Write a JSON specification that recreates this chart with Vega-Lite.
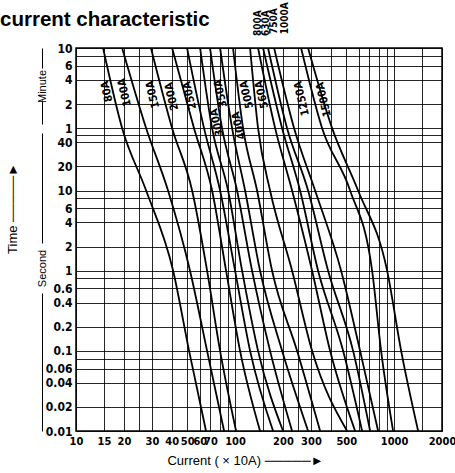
{
  "$schema": "https://vega.github.io/schema/vega-lite/v6.json",
  "width": 366,
  "height": 383,
  "autosize": {"type": "none"},
  "padding": {"left": 76, "top": 48, "right": 13, "bottom": 42},
  "background": "white",
  "title": {"text": "current characteristic", "anchor": "start", "frame": "group", "dx": -76, "offset": 0, "dy": 44, "baseline": "alphabetic", "fontSize": 20.5, "fontWeight": "bold", "font": "Liberation Sans", "color": "black"},
  "config": {"view": {"stroke": "black", "strokeWidth": 1.5}, "font": "Liberation Sans"},
  "datasets": {
    "curves": [
      {"fuse": "80A", "I": 14.8, "t": 600}, {"fuse": "80A", "I": 19.5, "t": 60}, {"fuse": "80A", "I": 27.6, "t": 10}, {"fuse": "80A", "I": 40.8, "t": 1}, {"fuse": "80A", "I": 51.4, "t": 0.1}, {"fuse": "80A", "I": 65.7, "t": 0.01},
      {"fuse": "100A", "I": 19.5, "t": 600}, {"fuse": "100A", "I": 27.6, "t": 60}, {"fuse": "100A", "I": 37.9, "t": 10}, {"fuse": "100A", "I": 52.1, "t": 1}, {"fuse": "100A", "I": 66.7, "t": 0.1}, {"fuse": "100A", "I": 85.3, "t": 0.01},
      {"fuse": "150A", "I": 29.6, "t": 600}, {"fuse": "150A", "I": 40.2, "t": 60}, {"fuse": "150A", "I": 53.7, "t": 10}, {"fuse": "150A", "I": 66.7, "t": 1}, {"fuse": "150A", "I": 80.5, "t": 0.1}, {"fuse": "150A", "I": 101.5, "t": 0.01},
      {"fuse": "200A", "I": 40.2, "t": 600}, {"fuse": "200A", "I": 55.2, "t": 60}, {"fuse": "200A", "I": 71.7, "t": 10}, {"fuse": "200A", "I": 87.8, "t": 1}, {"fuse": "200A", "I": 107.5, "t": 0.1}, {"fuse": "200A", "I": 143.6, "t": 0.01},
      {"fuse": "250A", "I": 49.9, "t": 600}, {"fuse": "250A", "I": 63.8, "t": 60}, {"fuse": "250A", "I": 80.5, "t": 10}, {"fuse": "250A", "I": 100, "t": 1}, {"fuse": "250A", "I": 124.3, "t": 0.1}, {"fuse": "250A", "I": 173.4, "t": 0.01},
      {"fuse": "300A", "I": 60.3, "t": 600}, {"fuse": "300A", "I": 71.7, "t": 60}, {"fuse": "300A", "I": 90.4, "t": 10}, {"fuse": "300A", "I": 110.7, "t": 1}, {"fuse": "300A", "I": 139.5, "t": 0.1}, {"fuse": "300A", "I": 200.4, "t": 0.01},
      {"fuse": "350A", "I": 69.6, "t": 600}, {"fuse": "350A", "I": 82.8, "t": 60}, {"fuse": "350A", "I": 102.9, "t": 10}, {"fuse": "350A", "I": 127.9, "t": 1}, {"fuse": "350A", "I": 166.0, "t": 0.1}, {"fuse": "350A", "I": 228.3, "t": 0.01},
      {"fuse": "400A", "I": 80.5, "t": 600}, {"fuse": "400A", "I": 95.8, "t": 60}, {"fuse": "400A", "I": 115.6, "t": 10}, {"fuse": "400A", "I": 143.6, "t": 1}, {"fuse": "400A", "I": 197.6, "t": 0.1}, {"fuse": "400A", "I": 287.8, "t": 0.01},
      {"fuse": "500A", "I": 97.1, "t": 600}, {"fuse": "500A", "I": 112.3, "t": 60}, {"fuse": "500A", "I": 137.5, "t": 10}, {"fuse": "500A", "I": 170.9, "t": 1}, {"fuse": "500A", "I": 245.4, "t": 0.1}, {"fuse": "500A", "I": 342.5, "t": 0.01},
      {"fuse": "560A", "I": 124.3, "t": 600}, {"fuse": "560A", "I": 139.5, "t": 60}, {"fuse": "560A", "I": 166.0, "t": 10}, {"fuse": "560A", "I": 228.3, "t": 1}, {"fuse": "560A", "I": 305.0, "t": 0.1}, {"fuse": "560A", "I": 506.4, "t": 0.01},
      {"fuse": "630A", "I": 139.5, "t": 600}, {"fuse": "630A", "I": 178.6, "t": 60}, {"fuse": "630A", "I": 228.3, "t": 10}, {"fuse": "630A", "I": 305.0, "t": 1}, {"fuse": "630A", "I": 395.8, "t": 0.1}, {"fuse": "630A", "I": 568.5, "t": 0.01},
      {"fuse": "750A", "I": 150.0, "t": 600}, {"fuse": "750A", "I": 197.6, "t": 60}, {"fuse": "750A", "I": 256.3, "t": 10}, {"fuse": "750A", "I": 332.7, "t": 1}, {"fuse": "750A", "I": 477.9, "t": 0.1}, {"fuse": "750A", "I": 629.0, "t": 0.01},
      {"fuse": "800A", "I": 161.2, "t": 600}, {"fuse": "800A", "I": 212.3, "t": 60}, {"fuse": "800A", "I": 287.8, "t": 10}, {"fuse": "800A", "I": 384.5, "t": 1}, {"fuse": "800A", "I": 552.3, "t": 0.1}, {"fuse": "800A", "I": 706.6, "t": 0.01},
      {"fuse": "1000A", "I": 176.0, "t": 600}, {"fuse": "1000A", "I": 235.0, "t": 60}, {"fuse": "1000A", "I": 318.6, "t": 10}, {"fuse": "1000A", "I": 464.2, "t": 1}, {"fuse": "1000A", "I": 611.1, "t": 0.1}, {"fuse": "1000A", "I": 793.3, "t": 0.01},
      {"fuse": "1250A", "I": 260.1, "t": 600}, {"fuse": "1250A", "I": 352.6, "t": 60}, {"fuse": "1250A", "I": 528.9, "t": 10}, {"fuse": "1250A", "I": 727.2, "t": 1}, {"fuse": "1250A", "I": 828.3, "t": 0.1}, {"fuse": "1250A", "I": 985.6, "t": 0.01},
      {"fuse": "1500A", "I": 287.8, "t": 600}, {"fuse": "1500A", "I": 407.4, "t": 60}, {"fuse": "1500A", "I": 593.6, "t": 10}, {"fuse": "1500A", "I": 903.6, "t": 1}, {"fuse": "1500A", "I": 1107, "t": 0.1}, {"fuse": "1500A", "I": 1416, "t": 0.01}
    ],
    "labels": [
      {"label": "80A", "I": 15.7, "t": 173},
      {"label": "100A", "I": 20.3, "t": 168},
      {"label": "150A", "I": 30.5, "t": 158},
      {"label": "200A", "I": 40.2, "t": 150},
      {"label": "250A", "I": 52.1, "t": 154},
      {"label": "300A", "I": 77.1, "t": 70.8},
      {"label": "350A", "I": 81.6, "t": 163},
      {"label": "400A", "I": 106, "t": 64.9},
      {"label": "500A", "I": 119, "t": 158},
      {"label": "560A", "I": 148, "t": 158},
      {"label": "1250A", "I": 264, "t": 141},
      {"label": "1500A", "I": 363, "t": 137},
      {"label": "800A", "I": 139.5, "t": 1223},
      {"label": "630A", "I": 156, "t": 1223},
      {"label": "750A", "I": 176, "t": 1296},
      {"label": "1000A", "I": 206, "t": 1413}
    ]
  },
  "resolve": {"axis": {"y": "independent"}},
  "layer": [
    {
      "data": {"name": "curves"},
      "mark": {"type": "line", "color": "black", "strokeWidth": 1.8, "interpolate": "monotone"},
      "encoding": {
        "detail": {"field": "fuse"},
        "x": {"field": "I", "type": "quantitative", "scale": {"type": "log", "domain": [10, 2000], "nice": false},
          "axis": {"values": [10,15,20,25,30,40,50,60,70,80,90,100,150,200,250,300,400,500,600,700,800,900,1000,1500,2000],
            "labelExpr": "indexof([25,80,90,150,250,400,600,700,800,900,1500], datum.value) >= 0 ? '' : format(datum.value, 'd')",
            "labelOverlap": false, "labelBound": false, "labelFlush": false, "grid": true, "gridColor": "black", "gridWidth": 1, "gridOpacity": 0.85,
            "ticks": false, "domain": false, "labelPadding": 4, "labelFont": "Liberation Sans Narrow, DejaVu Sans Condensed, Liberation Sans", "labelFontSize": 11, "labelFontWeight": "bold", "labelColor": "black",
            "title": "Current ( × 10A) ─────►", "titleFont": "Liberation Sans", "titleFontSize": 13, "titleFontWeight": "normal", "titleColor": "black", "titleX": 169, "titlePadding": 8}},
        "y": {"field": "t", "type": "quantitative", "scale": {"type": "log", "domain": [0.01, 600], "nice": false},
          "axis": {"orient": "left", "values": [600,480,360,240,120,60,50,40,20,10,8,6,4,2,1,0.8,0.6,0.4,0.2,0.1,0.08,0.06,0.04,0.02,0.01],
            "labelExpr": "indexof([480,50,8,0.8,0.08], datum.value) >= 0 ? '' : datum.value >= 60 ? format(datum.value/60, 'd') : datum.value >= 1 ? format(datum.value, 'd') : format(datum.value, '.2~f')",
            "labelOverlap": false, "labelBound": false, "labelFlush": false, "grid": true, "gridColor": "black", "gridWidth": 1, "gridOpacity": 0.85,
            "ticks": false, "domain": false, "labelPadding": 4, "labelFont": "Liberation Sans Narrow, DejaVu Sans Condensed, Liberation Sans", "labelFontSize": 12, "labelFontWeight": "bold", "labelColor": "black",
            "title": "Time ─────►", "titleFont": "Liberation Sans", "titleFontSize": 13, "titleFontWeight": "normal", "titleColor": "black", "titleX": -64, "titleY": 160, "titleAngle": -90, "titleAlign": "center", "titleBaseline": "middle"}}
      }
    },
    {
      "data": {"name": "labels"},
      "transform": [{"filter": "datum.t <= 600"}],
      "mark": {"type": "text", "angle": -103, "align": "center", "baseline": "middle", "font": "Liberation Sans Narrow, DejaVu Sans Condensed, Liberation Sans", "fontSize": 11, "fontWeight": "bold", "color": "black"},
      "encoding": {
        "text": {"field": "label"},
        "x": {"field": "I", "type": "quantitative", "scale": {"type": "log", "domain": [10, 2000], "nice": false}},
        "y": {"field": "t", "type": "quantitative", "scale": {"type": "log", "domain": [0.01, 600], "nice": false}, "axis": null}
      }
    },
    {
      "data": {"name": "labels"},
      "transform": [{"filter": "datum.t > 600"}],
      "mark": {"type": "text", "angle": -90, "align": "center", "baseline": "middle", "font": "Liberation Sans Narrow, DejaVu Sans Condensed, Liberation Sans", "fontSize": 10, "fontWeight": "bold", "color": "black"},
      "encoding": {
        "text": {"field": "label"},
        "x": {"field": "I", "type": "quantitative", "scale": {"type": "log", "domain": [10, 2000], "nice": false}},
        "y": {"field": "t", "type": "quantitative", "scale": {"type": "log", "domain": [0.01, 600], "nice": false}, "axis": null}
      }
    },
    {
      "data": {"name": "curves"},
      "mark": {"type": "point", "opacity": 0},
      "encoding": {
        "x": {"field": "I", "type": "quantitative", "scale": {"type": "log", "domain": [10, 2000], "nice": false}},
        "y": {"field": "t", "type": "quantitative", "scale": {"type": "log", "domain": [0.01, 600], "nice": false},
          "axis": {"orient": "left", "offset": 34, "labels": false, "ticks": false, "grid": false,
            "domain": true, "domainColor": "black", "domainWidth": 1, "domainDash": [138, 50, 110, 9, 24, 32, 20, 200],
            "title": "Minute", "titleFont": "Liberation Sans", "titleFontSize": 11, "titleFontWeight": "normal", "titleColor": "black", "titleX": 0, "titleY": 38, "titleAngle": -90, "titleAlign": "center", "titleBaseline": "middle"}}
      }
    },
    {
      "data": {"name": "curves"},
      "mark": {"type": "point", "opacity": 0},
      "encoding": {
        "x": {"field": "I", "type": "quantitative", "scale": {"type": "log", "domain": [10, 2000], "nice": false}},
        "y": {"field": "t", "type": "quantitative", "scale": {"type": "log", "domain": [0.01, 600], "nice": false},
          "axis": {"orient": "left", "offset": 34, "labels": false, "ticks": false, "domain": false, "grid": false,
            "title": "Second", "titleFont": "Liberation Sans", "titleFontSize": 11, "titleFontWeight": "normal", "titleColor": "black", "titleX": 0, "titleY": 220, "titleAngle": -90, "titleAlign": "center", "titleBaseline": "middle"}}
      }
    }
  ]
}
